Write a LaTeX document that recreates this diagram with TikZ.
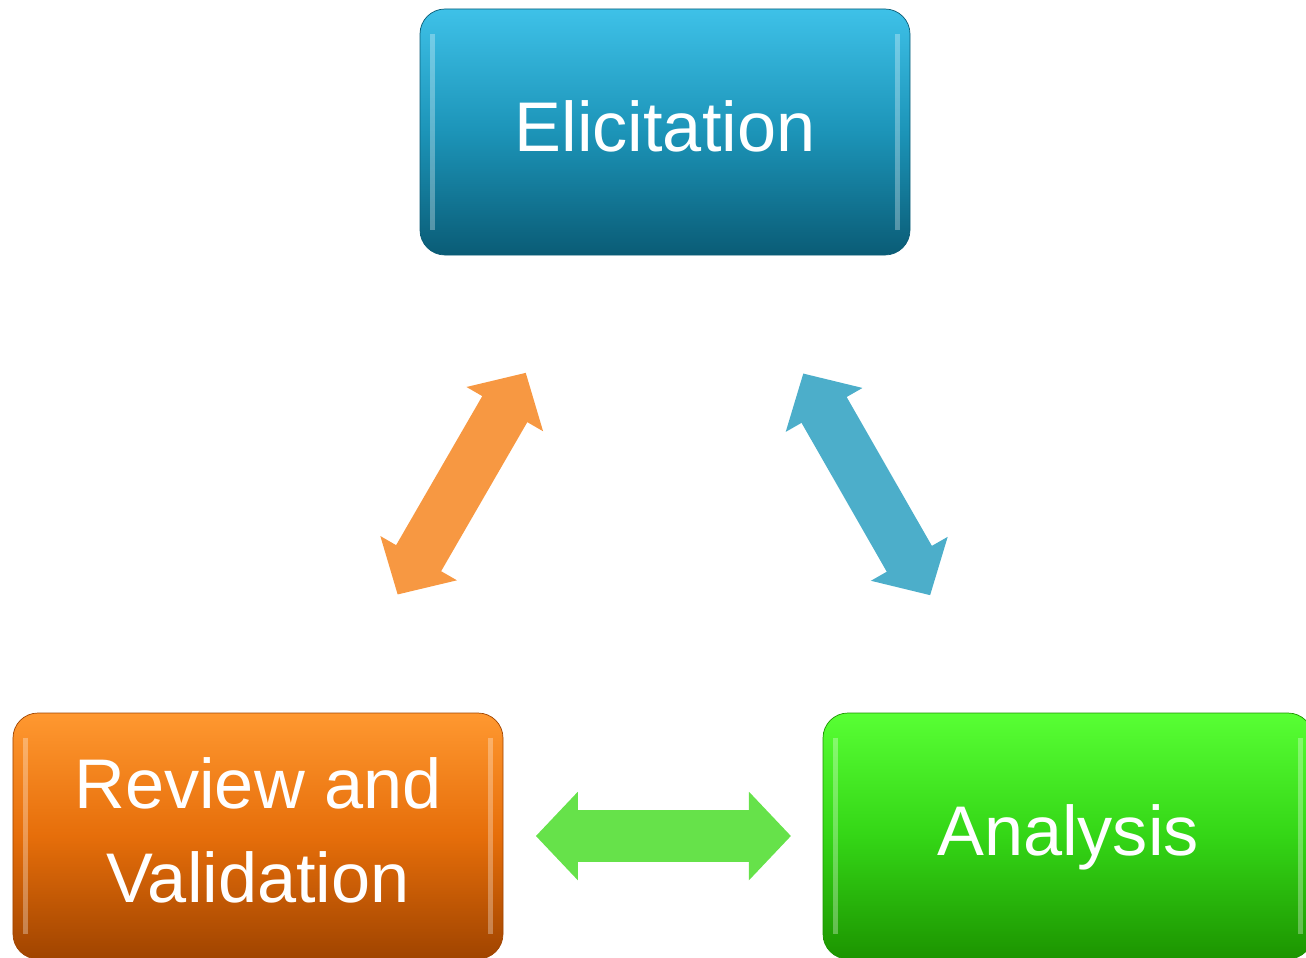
\documentclass[tikz,border=0pt]{standalone}
\usepackage{fontspec}
\setmainfont{Liberation Sans}
\usepackage{tikz}
\usetikzlibrary{arrows.meta, calc}

\definecolor{eliTop}{RGB}{62,193,232}
\definecolor{eliMid}{RGB}{28,148,184}
\definecolor{eliBot}{RGB}{10,92,118}
\definecolor{revTop}{RGB}{255,152,48}
\definecolor{revMid}{RGB}{230,110,10}
\definecolor{revBot}{RGB}{160,68,0}
\definecolor{anaTop}{RGB}{88,255,52}
\definecolor{anaMid}{RGB}{52,214,22}
\definecolor{anaBot}{RGB}{28,148,0}
\definecolor{arrOrange}{RGB}{247,152,66}
\definecolor{arrBlue}{RGB}{76,174,202}
\definecolor{arrGreen}{RGB}{102,226,74}

\tikzset{
  phase/.style={rounded corners=0.5cm, minimum width=9.8cm, minimum height=4.92cm,
    text=white, font=\fontsize{40}{54}\selectfont, align=center, text depth=0.24cm,
    path picture={
      \draw[white, opacity=0.3, line width=3pt]
        ([xshift=7pt,yshift=-14pt]path picture bounding box.north west) --
        ([xshift=7pt,yshift=14pt]path picture bounding box.south west);
      \draw[white, opacity=0.3, line width=3pt]
        ([xshift=-7pt,yshift=-14pt]path picture bounding box.north east) --
        ([xshift=-7pt,yshift=14pt]path picture bounding box.south east);
    }},
  bigarrow/.style={line width=1.04cm,
    {Triangle[length=0.84cm, width=1.72cm]}-{Triangle[length=0.84cm, width=1.72cm]}}
}

\begin{document}
\begin{tikzpicture}[x=0.2mm, y=-0.2mm]
    \useasboundingbox (0,0) rectangle (1306,958);

    % Phases
    \node[phase, draw=eliBot, top color=eliTop, bottom color=eliBot, middle color=eliMid]
      (eli) at (665,132) {Elicitation};
    \node[phase, draw=revBot, top color=revTop, bottom color=revBot, middle color=revMid]
      (rev) at (258,836) {Review and\\Validation};
    \node[phase, draw=anaBot, top color=anaTop, bottom color=anaBot, middle color=anaMid]
      (ana) at (1068,836) {Analysis};

    % Two-way arrows between phases
    \draw[bigarrow, arrOrange] ($(rev)!0.343!(eli)$) -- ($(rev)!0.658!(eli)$);
    \draw[bigarrow, arrBlue] ($(eli)!0.343!(ana)$) -- ($(eli)!0.658!(ana)$);
    \draw[bigarrow, arrGreen] ($(rev)!0.343!(ana)$) -- ($(rev)!0.658!(ana)$);
\end{tikzpicture}
\end{document}
